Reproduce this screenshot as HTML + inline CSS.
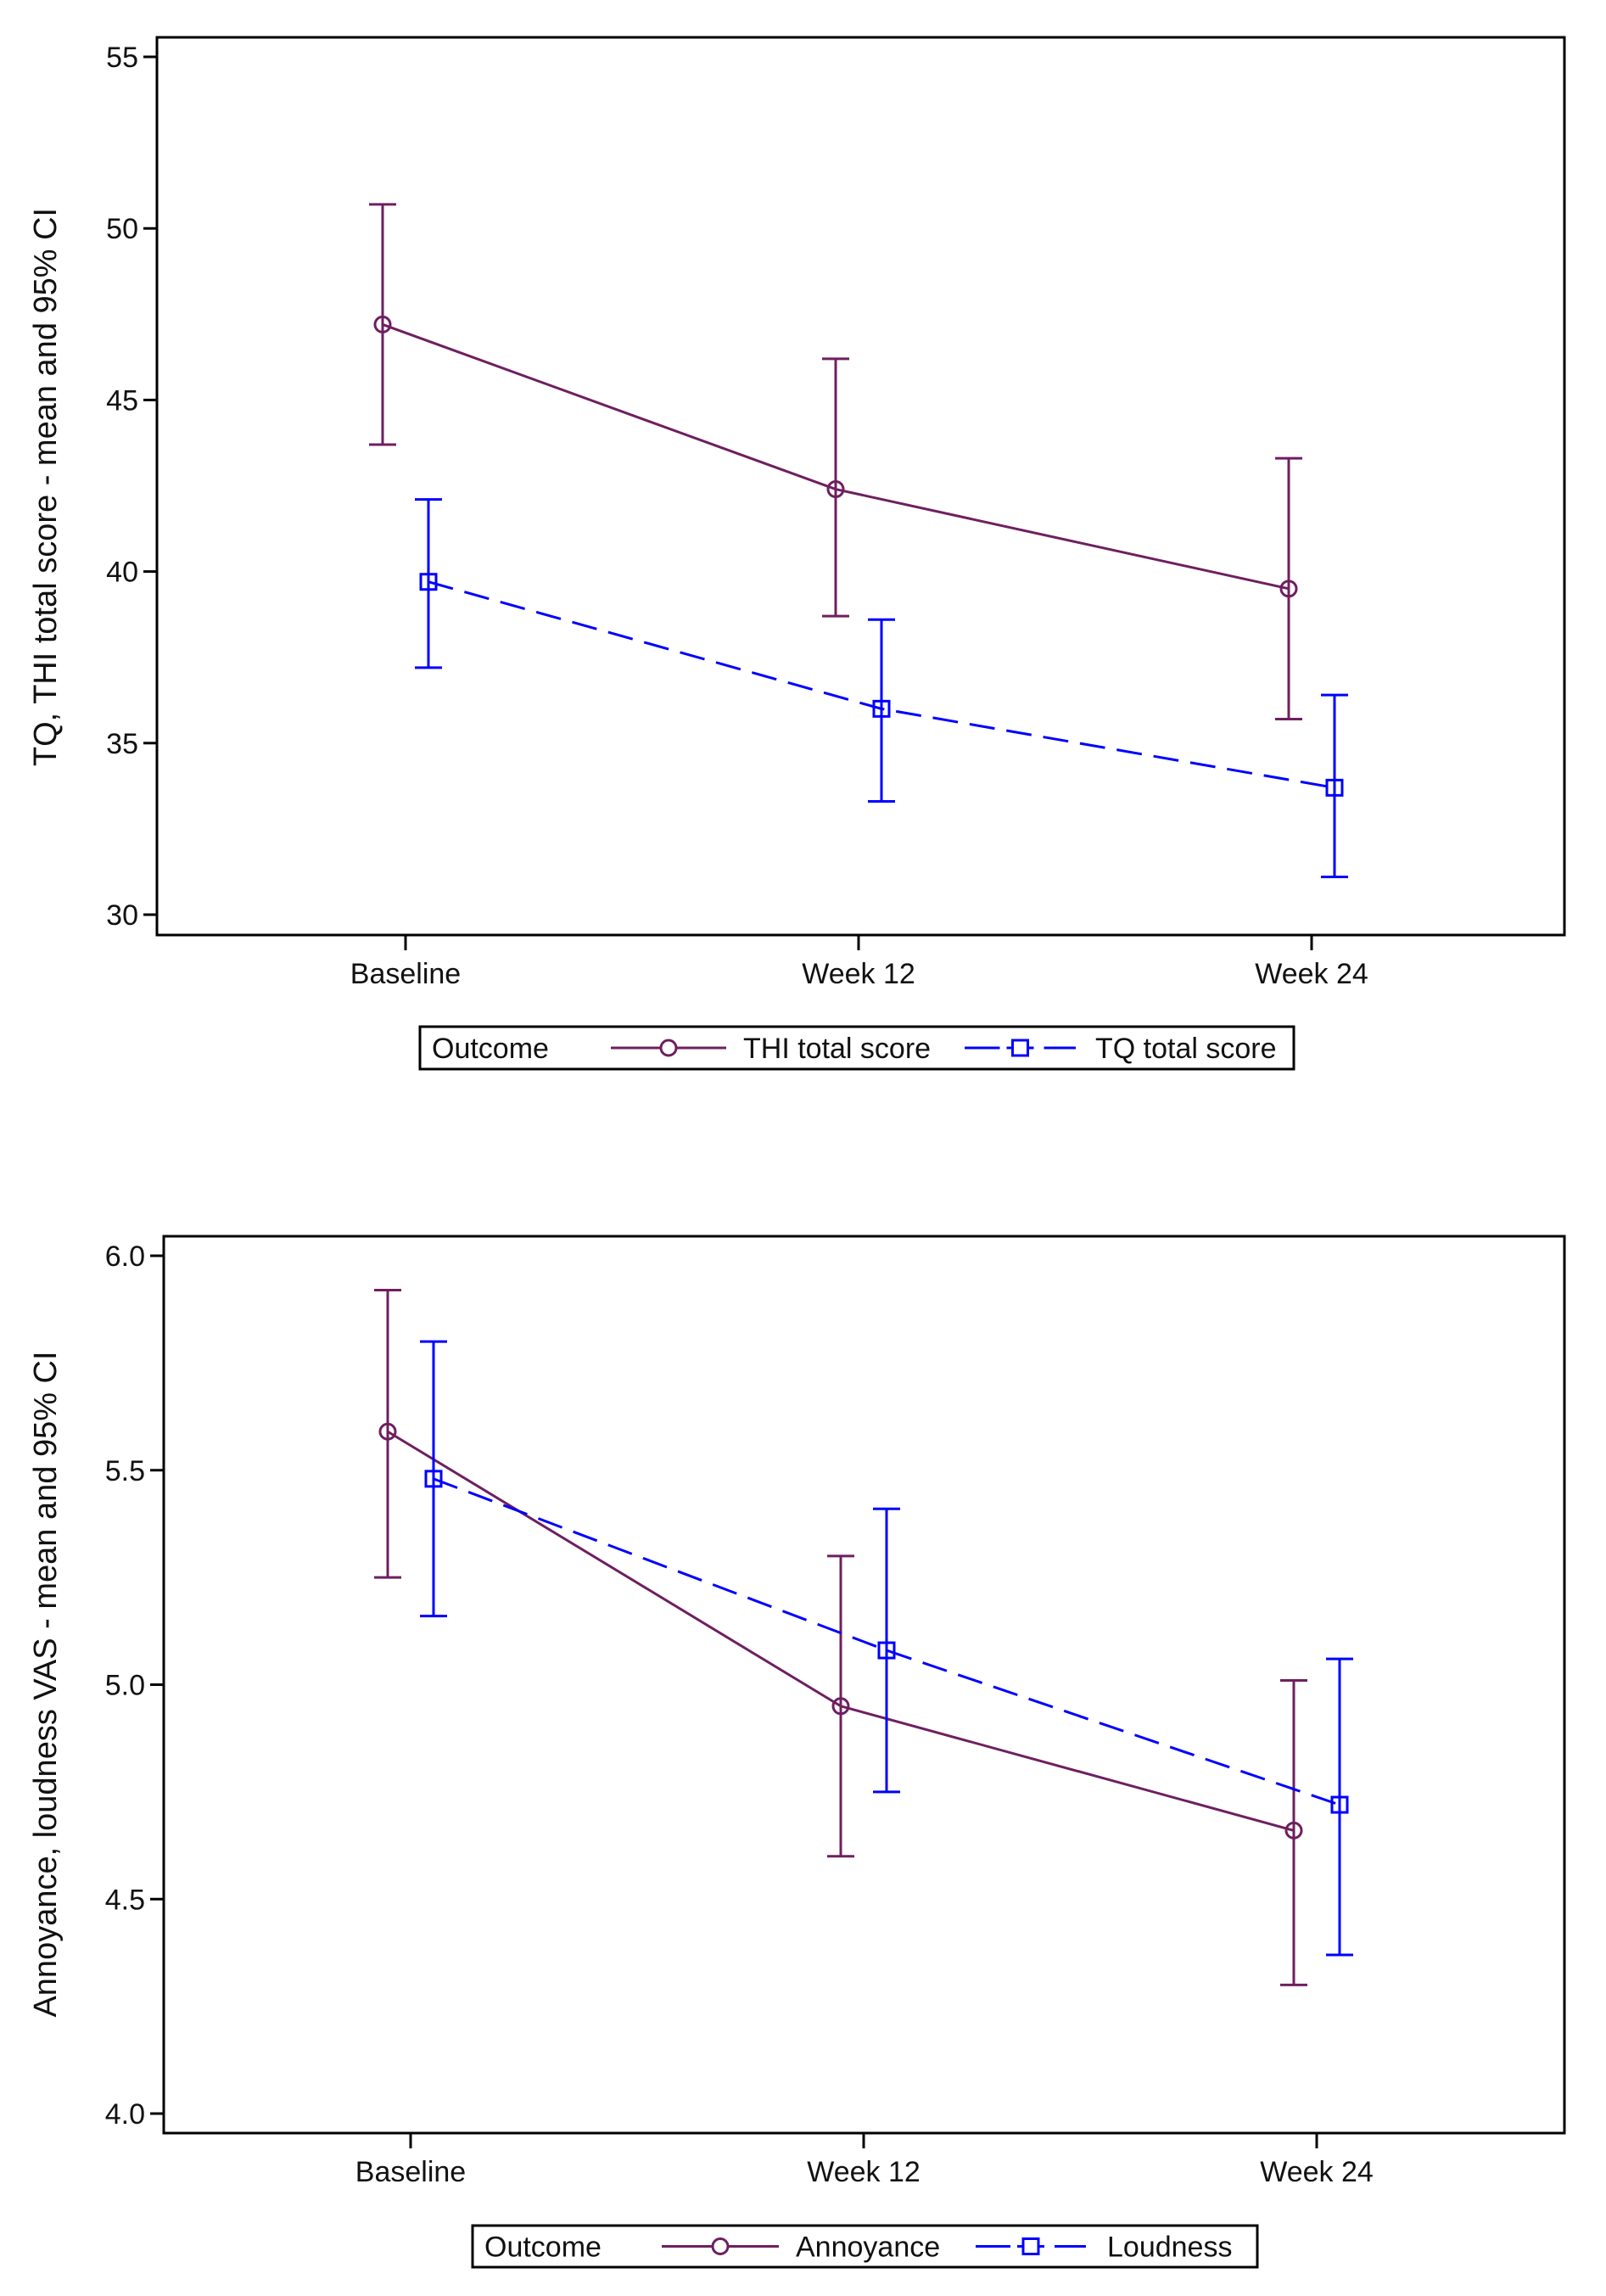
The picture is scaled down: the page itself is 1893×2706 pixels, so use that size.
<!DOCTYPE html>
<html><head><meta charset="utf-8"><style>
html,body{margin:0;padding:0;background:#fff;}
svg{display:block;font-family:"Liberation Sans",Arial,sans-serif;}
</style></head><body>
<svg id="fig" width="1893" height="2706" viewBox="0 0 1893 2706" xmlns="http://www.w3.org/2000/svg">
<rect width="1893" height="2706" fill="#fff"/>
</svg>
<script>
const categories = ["Baseline", "Week 12", "Week 24"];
// Top chart
const thiMean = [47.2, 42.4, 39.5];
const thiLow = [43.7, 38.7, 35.7];
const thiHigh = [50.7, 46.2, 43.3];
const tqMean = [39.7, 36.0, 33.7];
const tqLow = [37.2, 33.3, 31.1];
const tqHigh = [42.1, 38.6, 36.4];
const topTicks = [30, 35, 40, 45, 50, 55];
const topTickLabels = ["30", "35", "40", "45", "50", "55"];
// Bottom chart
const annMean = [5.59, 4.95, 4.66];
const annLow = [5.25, 4.60, 4.30];
const annHigh = [5.92, 5.30, 5.01];
const loudMean = [5.48, 5.08, 4.72];
const loudLow = [5.16, 4.75, 4.37];
const loudHigh = [5.80, 5.41, 5.06];
const botTicks = [4.0, 4.5, 5.0, 5.5, 6.0];
const botTickLabels = ["4.0", "4.5", "5.0", "5.5", "6.0"];

const NS = "http://www.w3.org/2000/svg";
const svg = document.getElementById("fig");
const PURPLE = "#6e1f60", BLUE = "#0000ff";
function mk(tag, attrs, parent) {
  const e = document.createElementNS(NS, tag);
  for (const k in attrs) e.setAttribute(k, attrs[k]);
  (parent || svg).appendChild(e);
  return e;
}

function drawChart(cfg) {
  const g = mk("g", {});
  
  
  const yScale = v => cfg.y0px + (v - cfg.y0v) * (cfg.y1px - cfg.y0px) / (cfg.y1v - cfg.y0v);
  const xScale = i => cfg.x0 + i * cfg.dx;
  const fr = mk("rect", {x: cfg.L, y: cfg.T, width: cfg.R - cfg.L, height: cfg.B - cfg.T, fill: "none", stroke: "#000", "stroke-width": 3}, g);
  
  
  cfg.ticks.forEach((t, i) => {
    const y = yScale(t);
    const tk = mk("line", {x1: cfg.L - 16, x2: cfg.L, y1: y, y2: y, stroke: "#000", "stroke-width": 3}, g);
    
    
    const tl = mk("text", {x: cfg.L - 22, y: y + 12, "text-anchor": "end", "font-size": 34, fill: "#111"}, g);
    tl.textContent = cfg.tickLabels[i];
    
    
  });
  categories.forEach((c, i) => {
    const x = xScale(i);
    const tk = mk("line", {x1: x, x2: x, y1: cfg.B, y2: cfg.B + 18, stroke: "#000", "stroke-width": 3}, g);
    
    
    const tl = mk("text", {x: x, y: cfg.B + 57, "text-anchor": "middle", "font-size": 34, fill: "#111"}, g);
    tl.textContent = c;
    
    
  });
  const yt = mk("text", {x: 0, y: 0, transform: `translate(${cfg.titleX},${cfg.titleY}) rotate(-90)`, "text-anchor": "middle", "font-size": 38, fill: "#111"}, g);
  yt.textContent = cfg.yTitle;
  
  
  cfg.series.forEach(s => {
    const sg = mk("g", {}, g);
    
    
    const pts = s.mean.map((v, i) => (xScale(i) + s.off) + "," + yScale(v)).join(" ");
    const ln = mk("polyline", {points: pts, fill: "none", stroke: s.color, "stroke-width": 3, "stroke-dasharray": s.dash || "none"}, sg);
    
    
    s.mean.forEach((v, i) => {
      const x = xScale(i) + s.off;
      const yl = yScale(s.low[i]), yh = yScale(s.high[i]);
      const eb = mk("path", {d: `M${x},${yl}V${yh}M${x-16},${yl}H${x+16}M${x-16},${yh}H${x+16}`, stroke: s.color, "stroke-width": 3, fill: "none"}, sg);
      
      
      const y = yScale(v);
      let m;
      if (s.marker === "circle") m = mk("circle", {cx: x, cy: y, r: 9, fill: "none", stroke: s.color, "stroke-width": 3}, sg);
      else m = mk("rect", {x: x - 9, y: y - 9, width: 18, height: 18, fill: "none", stroke: s.color, "stroke-width": 3}, sg);
      
      
    });
  });
  const lg = cfg.legend;
  const lgG = mk("g", {}, g);
  
  
  mk("rect", {x: lg.x, y: lg.y, width: lg.w, height: lg.h, fill: "#fff", stroke: "#000", "stroke-width": 3}, lgG);
  const cy = lg.y + lg.h / 2;
  const ot = mk("text", {x: lg.x + 14, y: cy + 12, "font-size": 34, fill: "#111"}, lgG);
  ot.textContent = "Outcome";
  
  
  lg.items.forEach((it, k) => {
    const s = cfg.series[k];
    const e = mk("g", {}, lgG);
    
    
    const mid = (it.l1 + it.l2) / 2;
    if (s.dash) {
      mk("line", {x1: it.l1, x2: mid - 24, y1: cy, y2: cy, stroke: s.color, "stroke-width": 3}, e);
      mk("line", {x1: mid - 16, x2: mid + 16, y1: cy, y2: cy, stroke: s.color, "stroke-width": 3}, e);
      mk("line", {x1: mid + 28, x2: it.l2, y1: cy, y2: cy, stroke: s.color, "stroke-width": 3}, e);
    } else {
      mk("line", {x1: it.l1, x2: it.l2, y1: cy, y2: cy, stroke: s.color, "stroke-width": 3}, e);
    }
    if (s.marker === "circle") mk("circle", {cx: mid, cy: cy, r: 9, fill: "#fff", stroke: s.color, "stroke-width": 3}, e);
    else mk("rect", {x: mid - 9, y: cy - 9, width: 18, height: 18, fill: "#fff", stroke: s.color, "stroke-width": 3}, e);
    const t = mk("text", {x: it.tx, y: cy + 12, "font-size": 34, fill: "#111"}, e);
    t.textContent = it.label;
  });
}

drawChart({
  name: "tq-thi-chart", L: 185, R: 1844, T: 44, B: 1102,
  y0v: 30, y0px: 1078, y1v: 55, y1px: 67,
  x0: 478, dx: 534,
  ticks: topTicks, tickLabels: topTickLabels,
  yTitle: "TQ, THI total score - mean and 95% CI", titleX: 66, titleY: 574,
  series: [
    {key: "thi", mean: thiMean, low: thiLow, high: thiHigh, color: PURPLE, off: -27, marker: "circle"},
    {key: "tq", mean: tqMean, low: tqLow, high: tqHigh, color: BLUE, off: 27, marker: "square", dash: "30,14"}
  ],
  legend: {x: 495, y: 1210, w: 1030, h: 50, items: [
    {l1: 720, l2: 856, tx: 876, label: "THI total score"},
    {l1: 1137, l2: 1268, tx: 1291, label: "TQ total score"}
  ]}
});

drawChart({
  name: "vas-chart", L: 193, R: 1844, T: 1457, B: 2514,
  y0v: 4.0, y0px: 2491, y1v: 6.0, y1px: 1480,
  x0: 484, dx: 534,
  ticks: botTicks, tickLabels: botTickLabels,
  yTitle: "Annoyance, loudness VAS - mean and 95% CI", titleX: 66, titleY: 1985,
  series: [
    {key: "annoyance", mean: annMean, low: annLow, high: annHigh, color: PURPLE, off: -27, marker: "circle"},
    {key: "loudness", mean: loudMean, low: loudLow, high: loudHigh, color: BLUE, off: 27, marker: "square", dash: "30,14"}
  ],
  legend: {x: 557, y: 2623, w: 925, h: 49, items: [
    {l1: 780, l2: 918, tx: 938, label: "Annoyance"},
    {l1: 1150, l2: 1280, tx: 1305, label: "Loudness"}
  ]}
});
</script>
</body></html>
